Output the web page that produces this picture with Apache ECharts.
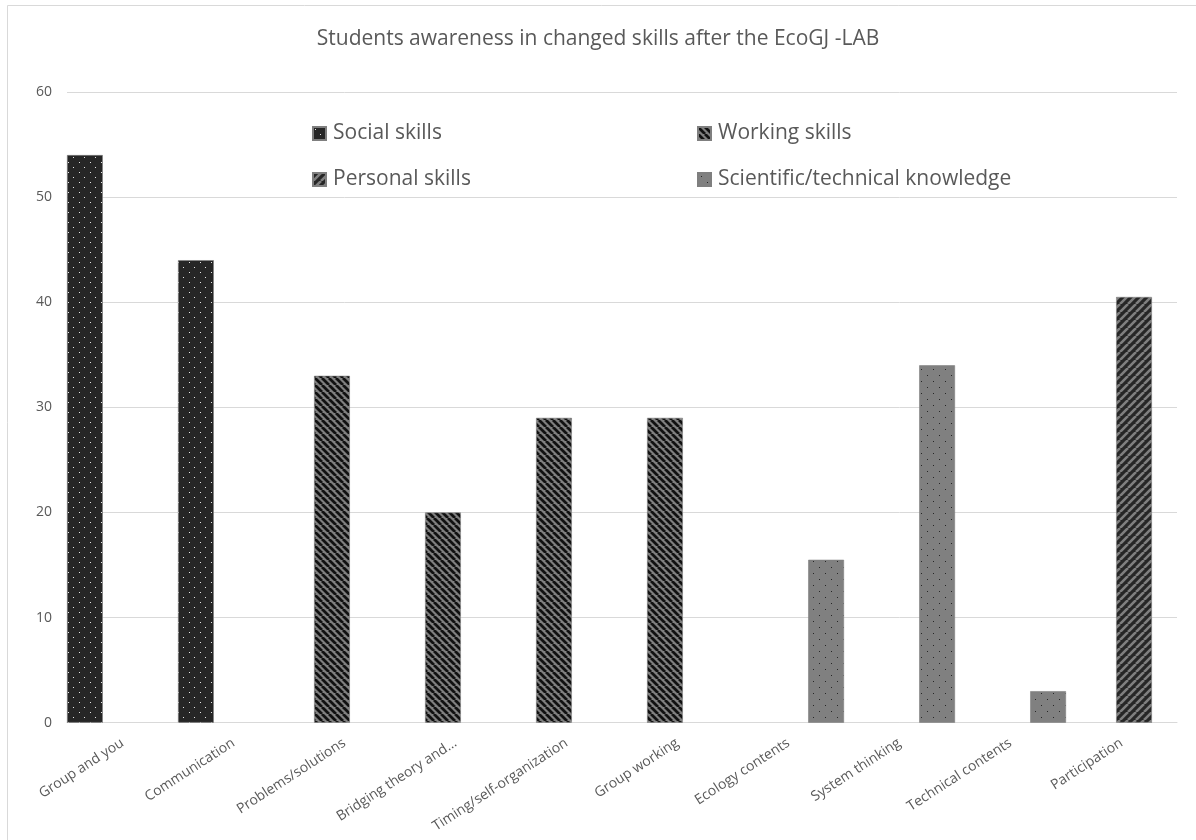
<!DOCTYPE html>
<html>
<head>
<meta charset="utf-8">
<script src="https://cdn.jsdelivr.net/npm/echarts@6/dist/echarts.min.js"></script>
<style>
html,body{margin:0;padding:0;background:#fff;}
#chart{width:1196px;height:840px;}
</style>
</head>
<body>
<div id="chart"></div>
<script>
const titleText = 'Students awareness in changed skills after the EcoGJ -LAB';
const categories = ['Group and you','Communication','Problems/solutions','Bridging theory and...','Timing/self-organization','Group working','Ecology contents','System thinking','Technical contents','Participation'];
const seriesNames = ['Social skills','Working skills','Personal skills','Scientific/technical knowledge'];
const socialSkills = [54, 44, null, null, null, null, null, null, null, null];
const workingSkills = [null, null, 33, 20, 29, 29, null, null, null, null];
const personalSkills = [null, null, null, null, null, null, null, null, null, 40.5];
const scientificKnowledge = [null, null, null, null, null, null, 15.5, 34, 3, null];
const yTicks = [0, 10, 20, 30, 40, 50, 60];

function makeDots(bg, fg, w, h, pts) {
  const c = document.createElement('canvas');
  c.width = w; c.height = h;
  const g = c.getContext('2d');
  g.fillStyle = bg; g.fillRect(0, 0, w, h);
  g.fillStyle = fg;
  pts.forEach(p => g.fillRect(p[0], p[1], 1, 1));
  return c;
}
function makeStripes(bg, fg, size, lw, dir) {
  const c = document.createElement('canvas');
  c.width = size; c.height = size;
  const g = c.getContext('2d');
  g.fillStyle = bg; g.fillRect(0, 0, size, size);
  g.strokeStyle = fg; g.lineWidth = lw;
  g.beginPath();
  for (let k = -1; k <= 1; k++) {
    if (dir === 'down') {
      g.moveTo(k * size, 0); g.lineTo(k * size + size, size);
    } else {
      g.moveTo(k * size, size); g.lineTo(k * size + size, 0);
    }
  }
  g.stroke();
  return c;
}

const patSocial = makeDots('#262626', '#e6e6e6', 11, 10, [[2, 2], [7, 7]]);
const patWorking = makeStripes('#7f7f7f', '#111111', 7, 2.8, 'down');
const patPersonal = makeStripes('#262626', '#7f7f7f', 8, 2.6, 'up');
const patScientific = makeDots('#808080', '#262626', 12, 12, [[3, 3], [9, 9]]);
const patterns = [patSocial, patWorking, patPersonal, patScientific];
const dataSets = [socialSkills, workingSkills, personalSkills, scientificKnowledge];

const chart = echarts.init(document.getElementById('chart'), null, {renderer: 'canvas'});

const legendPos = [
  {left: 312, top: 123},
  {left: 697, top: 123},
  {left: 312, top: 169},
  {left: 697, top: 169}
];

const option = {
  animation: false,
  backgroundColor: '#ffffff',
  title: {
    text: titleText,
    left: 'center',
    top: 24,
    textStyle: {fontFamily: 'Open Sans', fontSize: 21, fontWeight: 'normal', color: '#595959'}
  },
  legend: seriesNames.map((n, i) => ({
    data: [n],
    left: legendPos[i].left,
    top: legendPos[i].top,
    padding: 0,
    itemWidth: 13,
    itemHeight: 13,
    itemGap: 0,
    icon: 'rect',
    textStyle: {fontFamily: 'Open Sans', fontSize: 21, color: '#595959', padding: [0, 0, 0, 2]},
    selectedMode: false
  })),
  grid: {left: 67, right: 19, top: 92, bottom: 117.3, containLabel: false, outerBoundsMode: 'none'},
  xAxis: {
    type: 'category',
    data: categories,
    axisLine: {show: true, lineStyle: {color: '#d9d9d9', width: 1}},
    axisTick: {show: false},
    axisLabel: {rotate: 33, interval: 0, margin: 19, fontFamily: 'Open Sans', fontSize: 14, color: '#595959'}
  },
  yAxis: {
    type: 'value',
    min: yTicks[0],
    max: yTicks[yTicks.length - 1],
    interval: yTicks[1] - yTicks[0],
    axisLine: {show: false},
    axisTick: {show: false},
    splitLine: {lineStyle: {color: '#d9d9d9', width: 1}},
    axisLabel: {margin: 15, fontFamily: 'Open Sans', fontSize: 14, color: '#595959'}
  },
  series: seriesNames.map((n, i) => ({
    name: n,
    type: 'bar',
    data: dataSets[i],
    barGap: '-30%',
    barCategoryGap: '0%',
    itemStyle: {
      color: {image: patterns[i], repeat: 'repeat'},
      borderColor: '#7f7f7f',
      borderWidth: 0.6
    }
  })),
  graphic: [
    {type: 'polyline', silent: true, shape: {points: [[7.5, 840], [7.5, 5.5], [1196, 5.5]]}, style: {stroke: '#d9d9d9', lineWidth: 1, fill: null}}
  ]
};
chart.setOption(option);
</script>
</body>
</html>
